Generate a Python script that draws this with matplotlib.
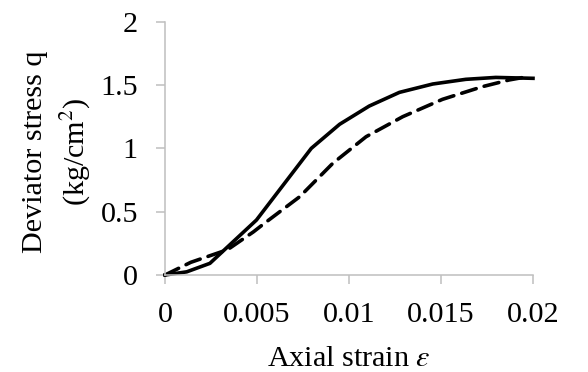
import matplotlib
matplotlib.use("Agg")
import matplotlib.pyplot as plt

plt.rcParams['font.family'] = ['Liberation Serif', 'DejaVu Serif']
plt.rcParams['mathtext.fontset'] = 'stix'

# Data
strain_solid = [0.0, 0.00118, 0.00244, 0.00497, 0.00795, 0.00949, 0.0111, 0.01274, 0.01455, 0.01635, 0.01798, 0.0200]
q_solid = [0.0, 0.025, 0.092, 0.434, 1.00, 1.19, 1.334, 1.442, 1.508, 1.545, 1.56, 1.553]

strain_dashed = [0.0, 0.0014, 0.0034, 0.0048, 0.00542, 0.00732, 0.00912, 0.01093, 0.01292, 0.01508, 0.01725, 0.0187, 0.0197]
q_dashed = [0.0, 0.10, 0.20, 0.34, 0.41, 0.618, 0.882, 1.092, 1.25, 1.387, 1.487, 1.54, 1.566]

x_ticks = [0, 0.005, 0.01, 0.015, 0.02]
x_ticklabels = ['0', '0.005', '0.01', '0.015', '0.02']
y_ticks = [0, 0.5, 1, 1.5, 2]
y_ticklabels = ['0', '0.5', '1', '1.5', '2']

W, H = 588, 372
fig = plt.figure(figsize=(W/100, H/100), dpi=100)
ax = fig.add_axes([165/W, 1-275/H, 368/W, (275-21.7)/H])

ax.plot(strain_solid, q_solid, color='black', lw=2.6, solid_joinstyle='round', clip_on=False)
ax.plot(strain_dashed, q_dashed, color='black', lw=2.6, dashes=(4.2, 2.3), dash_capstyle='round', clip_on=False)

ax.set_xlim(0, 0.02)
ax.set_ylim(0, 2)
ax.set_xticks(x_ticks)
ax.set_xticklabels(x_ticklabels)
ax.set_yticks(y_ticks)
ax.set_yticklabels(y_ticklabels)

for s in ['top', 'right']:
    ax.spines[s].set_visible(False)
for s in ['left', 'bottom']:
    ax.spines[s].set_color('#bfbfbf')
    ax.spines[s].set_linewidth(1.1)

ax.tick_params(axis='both', direction='out', length=6.5, width=1.1, color='#bfbfbf',
               labelsize=21.7, labelcolor='black', pad=13)

ax.set_xlabel(r'Axial strain $\varepsilon$', fontsize=21.7, labelpad=13)

fig.text(35/W, 1-152/H, 'Deviator stress q', rotation=90, ha='center', va='center', fontsize=21.7)
fig.text(76/W, 1-152/H, '(kg/cm$^{2}$)', rotation=90, ha='center', va='center', fontsize=21.7)

fig.savefig('out.png', dpi=100)
